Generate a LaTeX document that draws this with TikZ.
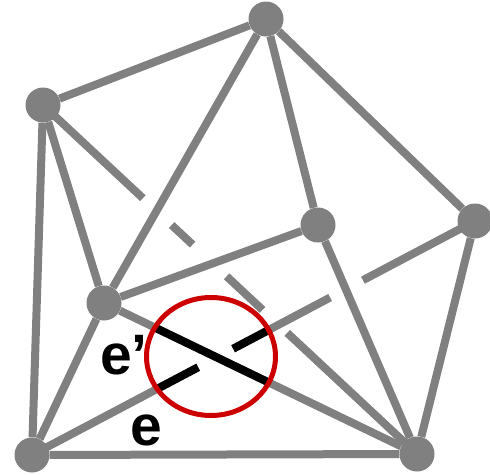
\documentclass[tikz,border=0pt]{standalone}
\usepackage{fontspec}
\setmainfont{Liberation Sans}
\usetikzlibrary{calc}
\definecolor{edgeGray}{RGB}{128,128,128}
\definecolor{ringRed}{RGB}{204,0,0}

\begin{document}
\begin{tikzpicture}[
  x=1pt, y=-1pt,
  vtx/.style={circle, fill=edgeGray, inner sep=0pt, minimum size=35pt},
  edge/.style={draw=edgeGray, line width=8pt},
  hot/.style={draw=black, line width=8pt},
  lbl/.style={inner sep=0pt, anchor=base west, font=\fontsize{57}{57}\selectfont\bfseries}
]
  \useasboundingbox (0,0) rectangle (490,474);
  \node[vtx] (a) at (43,105) {};
  \node[vtx] (b) at (266,19) {};
  \node[vtx] (c) at (318,225) {};
  \node[vtx] (d) at (475,221) {};
  \node[vtx] (e) at (104,303) {};
  \node[vtx] (f) at (32,455) {};
  \node[vtx] (g) at (417,454) {};
  \coordinate (cross) at (211,356.5);

  \draw[edge] (a) -- (b);
  \draw[edge] (a) -- (e);
  \draw[edge] (a) -- (f);
  \draw[edge] (b) -- (e);
  \draw[edge] (b) -- (c);
  \draw[edge] (b) -- (d);
  \draw[edge] (c) -- (e);
  \draw[edge] (c) -- (g);
  \draw[edge] (d) -- (g);
  \draw[edge] (e) -- (f);
  \draw[edge] (f) -- (g);
  % edges passing underneath
  \foreach \s/\t in {0/.267, .344/.40, .491/.587, .653/1}
    \draw[edge] ($(a)!\s!(g)$) -- ($(a)!\t!(g)$);
  \foreach \s/\t in {0/.375, .454/.673, .747/1}
    \draw[edge] ($(f)!\s!(d)$) -- ($(f)!\t!(d)$);
  \draw[edge] (e) -- (g);

  % the crossing pair, black inside the ring
  \begin{scope}
    \clip (cross) ellipse [x radius=64pt, y radius=58pt];
    \foreach \s/\t in {0/.375, .454/1}
      \draw[hot] ($(f)!\s!(d)$) -- ($(f)!\t!(d)$);
    \draw[hot] (e) -- (g);
  \end{scope}
  \draw[ringRed, line width=5pt] (cross) ellipse [x radius=64.5pt, y radius=59pt];

  \node[lbl] (eprime) at (100,374) {e’};
  \node[lbl] (elabel) at (130,445) {e};
\end{tikzpicture}
\end{document}
